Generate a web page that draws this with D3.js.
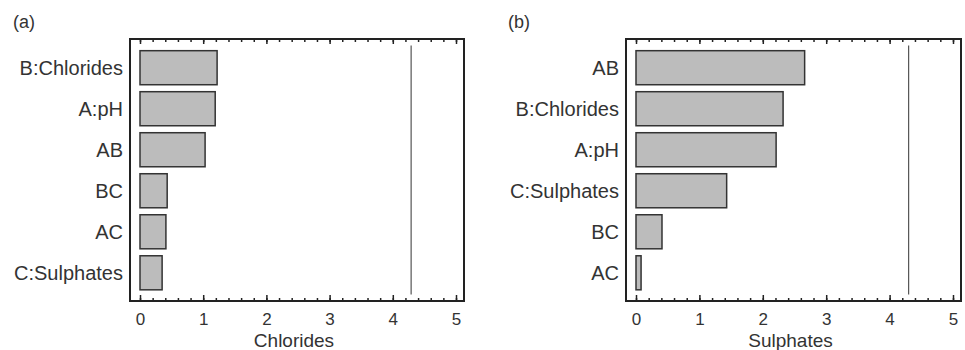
<!DOCTYPE html>
<html>
<head>
<meta charset="utf-8">
<script src="https://cdn.jsdelivr.net/npm/d3@7"></script>
<style>
  body { margin: 0; background: #fff; }
  svg text { font-family: "Liberation Sans", Arial, Helvetica, sans-serif; fill: #333; }
</style>
</head>
<body>
<svg id="chart" width="965" height="350"></svg>
<script>
// Panel (a): Chlorides
const chlorideTerms = ['B:Chlorides', 'A:pH', 'AB', 'BC', 'AC', 'C:Sulphates'];
const chlorideValues = [1.22, 1.19, 1.03, 0.43, 0.41, 0.35];
// Panel (b): Sulphates
const sulphateTerms = ['AB', 'B:Chlorides', 'A:pH', 'C:Sulphates', 'BC', 'AC'];
const sulphateValues = [2.66, 2.32, 2.21, 1.43, 0.41, 0.08];
// t-limit reference lines
const tLimits = [4.29, 4.30];
const xTicks = [0, 1, 2, 3, 4, 5];
const panelTags = ['(a)', '(b)'];
const axisTitles = ['Chlorides', 'Sulphates'];

const svg = d3.select('#chart');

const panels = [
  { terms: chlorideTerms, values: chlorideValues, left: 130, right: 464, labelX: 13 },
  { terms: sulphateTerms, values: sulphateValues, left: 626, right: 961, labelX: 508 }
];

const frameTop = 39, frameBottom = 301;

panels.forEach((p, i) => {
  const g = svg.append('g');

  const x = d3.scaleLinear()
    .domain([0, 5])
    .range([p.left + 10, p.right - 8]);

  const y = d3.scaleBand()
    .domain(p.terms)
    .range([47.2, 293.3])
    .paddingInner(0.17)
    .paddingOuter(0.085);

  // panel tag
  g.append('text')
    .attr('x', p.labelX)
    .attr('y', 28)
    .style('font-size', '18px')
    .text(panelTags[i]);

  // bars
  g.selectAll('.bar')
    .data(p.terms)
    .enter().append('rect')
    .attr('x', x(0))
    .attr('y', d => y(d))
    .attr('width', (d, j) => x(p.values[j]) - x(0))
    .attr('height', y.bandwidth())
    .attr('fill', '#bcbcbc')
    .attr('stroke', '#333')
    .attr('stroke-width', 1.5);

  // t-value limit line
  g.append('line')
    .attr('x1', x(tLimits[i]))
    .attr('x2', x(tLimits[i]))
    .attr('y1', 45.5)
    .attr('y2', 294.5)
    .attr('stroke', '#555')
    .attr('stroke-width', 1.2);

  // category labels
  g.selectAll('.cat')
    .data(p.terms)
    .enter().append('text')
    .attr('x', p.left - 7)
    .attr('y', d => y(d) + y.bandwidth() / 2)
    .attr('dy', '0.36em')
    .attr('text-anchor', 'end')
    .style('font-size', '20px')
    .text(d => d);

  const minorTicks = d3.range(0, 5.001, 0.2);

  // bottom ticks (inward)
  const bottom = g.append('g').attr('transform', `translate(0,${frameBottom})`);
  bottom.append('g')
    .call(d3.axisBottom(x).tickValues(minorTicks).tickSize(-3).tickFormat(''))
    .call(a => a.select('.domain').remove());
  bottom.append('g')
    .call(d3.axisBottom(x).tickValues(xTicks).tickSize(-6).tickPadding(12).tickFormat(d3.format('d')))
    .call(a => a.select('.domain').remove())
    .call(a => a.selectAll('text').style('font-size', '17px').attr('fill', '#333'));

  // top ticks (inward)
  const top = g.append('g').attr('transform', `translate(0,${frameTop})`);
  top.append('g')
    .call(d3.axisTop(x).tickValues(minorTicks).tickSize(-3).tickFormat(''))
    .call(a => a.select('.domain').remove());
  top.append('g')
    .call(d3.axisTop(x).tickValues(xTicks).tickSize(-5).tickFormat(''))
    .call(a => a.select('.domain').remove());

  g.selectAll('.tick line').attr('stroke', '#222').attr('stroke-width', 1.5);

  // frame
  g.append('rect')
    .attr('x', p.left)
    .attr('y', frameTop)
    .attr('width', p.right - p.left)
    .attr('height', frameBottom - frameTop)
    .attr('fill', 'none')
    .attr('stroke', '#222')
    .attr('stroke-width', 2);

  // axis title
  g.append('text')
    .attr('x', (p.left + p.right) / 2 - 3)
    .attr('y', 347)
    .attr('text-anchor', 'middle')
    .style('font-size', '19px')
    .text(axisTitles[i]);
});
</script>
</body>
</html>
